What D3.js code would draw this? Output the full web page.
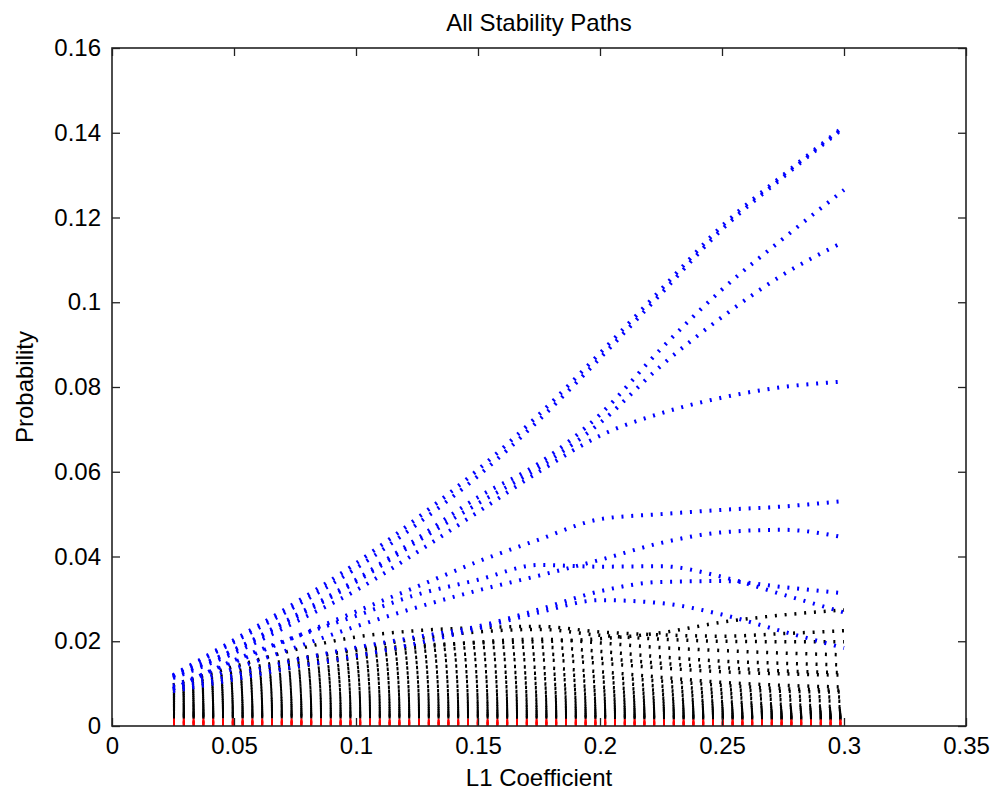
<!DOCTYPE html>
<html>
<head>
<meta charset="utf-8">
<script src="https://cdn.jsdelivr.net/npm/d3@7"></script>
<style>
  body { margin: 0; background: #fff; }
  svg { display: block; }
  text { font-family: "Liberation Sans", Arial, sans-serif; fill: #000; }
</style>
</head>
<body>
<svg id="chart" width="997" height="800"></svg>
<script>
// L1 penalty values at which each selection-probability path is sampled
const lambdas = [0.025, 0.05, 0.075, 0.1, 0.125, 0.15, 0.175, 0.2, 0.225, 0.25, 0.275, 0.3];

const xTicks = [0, 0.05, 0.1, 0.15, 0.2, 0.25, 0.3, 0.35];
const yTicks = [0, 0.02, 0.04, 0.06, 0.08, 0.1, 0.12, 0.14, 0.16];
const xTickLabels = ["0", "0.05", "0.1", "0.15", "0.2", "0.25", "0.3", "0.35"];
const yTickLabels = ["0", "0.02", "0.04", "0.06", "0.08", "0.1", "0.12", "0.14", "0.16"];

// stable features (blue)
const bluePaths = [
  [0.0120, 0.0203, 0.0290, 0.0384, 0.0490, 0.0605, 0.0735, 0.0880, 0.1030, 0.1180, 0.1300, 0.1415],
  [0.0118, 0.0198, 0.0282, 0.0372, 0.0476, 0.0590, 0.0722, 0.0868, 0.1020, 0.1172, 0.1295, 0.1412],
  [0.0118, 0.0180, 0.0260, 0.0345, 0.0442, 0.0540, 0.0620, 0.0735, 0.0890, 0.1030, 0.1150, 0.1265],
  [0.0116, 0.0178, 0.0255, 0.0340, 0.0435, 0.0525, 0.0610, 0.0715, 0.0850, 0.0965, 0.1065, 0.1143],
  [0.0113, 0.0172, 0.0245, 0.0320, 0.0410, 0.0505, 0.0600, 0.0685, 0.0738, 0.0775, 0.0800, 0.0813],
  [0.0095, 0.0150, 0.0210, 0.0270, 0.0329, 0.0388, 0.0440, 0.0488, 0.0500, 0.0510, 0.0518, 0.0531],
  [0.0090, 0.0135, 0.0185, 0.0235, 0.0280, 0.0320, 0.0355, 0.0392, 0.0432, 0.0457, 0.0463, 0.0445],
  [0.0087, 0.0155, 0.0210, 0.0260, 0.0310, 0.0345, 0.0380, 0.0376, 0.0377, 0.0352, 0.0310, 0.0268],
  [0.0085, 0.0120, 0.0155, 0.0185, 0.0210, 0.0235, 0.0275, 0.0318, 0.0340, 0.0342, 0.0328, 0.0313],
  [0.0082, 0.0110, 0.0140, 0.0165, 0.0195, 0.0230, 0.0268, 0.0297, 0.0290, 0.0263, 0.0223, 0.0184]
];

// unstable features (black)
const blackPaths = [
  [0.0097, 0.0140, 0.0180, 0.0210, 0.0225, 0.0232, 0.0235, 0.0222, 0.0215, 0.0212, 0.0218, 0.0225],
  [0.0092, 0.0128, 0.0158, 0.0178, 0.0190, 0.0196, 0.0199, 0.0206, 0.0220, 0.0245, 0.0262, 0.0274],
  [0.0088, 0.0122, 0.0152, 0.0182, 0.0206, 0.0222, 0.0228, 0.0214, 0.0205, 0.0200, 0.0199, 0.0199],
  [0.0084, 0.0115, 0.0145, 0.0168, 0.0185, 0.0198, 0.0205, 0.0196, 0.0185, 0.0178, 0.0172, 0.0168],
  [0.0080, 0.0110, 0.0138, 0.0160, 0.0175, 0.0185, 0.0186, 0.0176, 0.0163, 0.0153, 0.0148, 0.0144],
  [0.0076, 0.0103, 0.0128, 0.0148, 0.0162, 0.0170, 0.0170, 0.0160, 0.0148, 0.0138, 0.0130, 0.0126],
  [0.0072, 0.0098, 0.0120, 0.0138, 0.0150, 0.0157, 0.0156, 0.0148, 0.0137, 0.0128, 0.0123, 0.0120],
  [0.0068, 0.0092, 0.0112, 0.0128, 0.0138, 0.0142, 0.0138, 0.0128, 0.0115, 0.0103, 0.0096, 0.0092],
  [0.0064, 0.0086, 0.0104, 0.0118, 0.0126, 0.0128, 0.0124, 0.0116, 0.0106, 0.0096, 0.0088, 0.0084],
  [0.0060, 0.0080, 0.0096, 0.0108, 0.0115, 0.0116, 0.0112, 0.0104, 0.0094, 0.0086, 0.0082, 0.0080],
  [0.0056, 0.0074, 0.0088, 0.0098, 0.0104, 0.0105, 0.0100, 0.0092, 0.0084, 0.0077, 0.0071, 0.0068],
  [0.0052, 0.0068, 0.0080, 0.0088, 0.0093, 0.0094, 0.0090, 0.0083, 0.0075, 0.0068, 0.0062, 0.0058],
  [0.0048, 0.0062, 0.0072, 0.0079, 0.0083, 0.0083, 0.0080, 0.0074, 0.0066, 0.0058, 0.0051, 0.0045],
  [0.0045, 0.0057, 0.0065, 0.0071, 0.0074, 0.0074, 0.0071, 0.0065, 0.0059, 0.0052, 0.0045, 0.0040],
  [0.0042, 0.0052, 0.0059, 0.0064, 0.0066, 0.0066, 0.0063, 0.0058, 0.0052, 0.0046, 0.0041, 0.0036],
  [0.0039, 0.0047, 0.0053, 0.0057, 0.0059, 0.0058, 0.0056, 0.0051, 0.0046, 0.0041, 0.0036, 0.0032],
  [0.0036, 0.0043, 0.0048, 0.0051, 0.0052, 0.0052, 0.0049, 0.0045, 0.0041, 0.0037, 0.0033, 0.0030],
  [0.0033, 0.0039, 0.0043, 0.0045, 0.0046, 0.0046, 0.0044, 0.0040, 0.0037, 0.0033, 0.0030, 0.0027],
  [0.0030, 0.0035, 0.0038, 0.0040, 0.0041, 0.0040, 0.0038, 0.0036, 0.0033, 0.0030, 0.0027, 0.0025],
  [0.0028, 0.0032, 0.0034, 0.0035, 0.0036, 0.0035, 0.0034, 0.0032, 0.0029, 0.0027, 0.0025, 0.0023],
  [0.0026, 0.0029, 0.0030, 0.0031, 0.0031, 0.0031, 0.0030, 0.0028, 0.0026, 0.0024, 0.0022, 0.0021],
  [0.0024, 0.0026, 0.0027, 0.0027, 0.0027, 0.0027, 0.0026, 0.0025, 0.0023, 0.0022, 0.0020, 0.0019],
  [0.0022, 0.0023, 0.0024, 0.0024, 0.0024, 0.0024, 0.0023, 0.0022, 0.0021, 0.0020, 0.0019, 0.0018],
  [0.0020, 0.0021, 0.0021, 0.0021, 0.0021, 0.0021, 0.0020, 0.0020, 0.0019, 0.0018, 0.0017, 0.0016]
];

// features that are almost never selected (red)
const redPaths = [
  [0.0012, 0.0012, 0.0012, 0.0012, 0.0011, 0.0011, 0.0011, 0.0011, 0.0010, 0.0010, 0.0010, 0.0010],
  [0.0009, 0.0009, 0.0009, 0.0008, 0.0008, 0.0008, 0.0008, 0.0008, 0.0007, 0.0007, 0.0007, 0.0007],
  [0.0006, 0.0006, 0.0006, 0.0005, 0.0005, 0.0005, 0.0005, 0.0005, 0.0005, 0.0005, 0.0005, 0.0005],
  [0.0004, 0.0004, 0.0004, 0.0004, 0.0003, 0.0003, 0.0003, 0.0003, 0.0003, 0.0003, 0.0003, 0.0003]
];

const margin = { left: 112, right: 31, top: 48, bottom: 74 };
const W = 997, H = 800;
const iw = W - margin.left - margin.right;
const ih = H - margin.top - margin.bottom;

const svg = d3.select("#chart");
const g = svg.append("g").attr("transform", `translate(${margin.left},${margin.top})`);

const x = d3.scaleLinear().domain([0, 0.35]).range([0, iw]);
const y = d3.scaleLinear().domain([0, 0.16]).range([ih, 0]);

g.append("clipPath").attr("id", "plotClip")
  .append("rect").attr("width", iw).attr("height", ih);

const line = d3.line()
  .x((d, i) => x(lambdas[i]))
  .y(d => y(d))
  .curve(d3.curveMonotoneX);

const plot = g.append("g").attr("clip-path", "url(#plotClip)");

function drawGroup(paths, color, width) {
  plot.append("g")
    .selectAll("path")
    .data(paths)
    .join("path")
    .attr("d", line)
    .attr("fill", "none")
    .attr("stroke", color)
    .attr("stroke-width", width)
    .attr("stroke-dasharray", "2 7.8");
}

drawGroup(blackPaths, "#000000", 3.5);
drawGroup(redPaths, "#ff0000", 5);
drawGroup(bluePaths, "#0000ff", 4);

// axes: ticks point inward on all four sides
const fmtX = (d, i) => xTickLabels[i];
const fmtY = (d, i) => yTickLabels[i];

const axisStyle = sel => {
  sel.selectAll("path.domain").remove();
  sel.selectAll("line").attr("stroke", "#222").attr("stroke-width", 1.3);
  sel.selectAll("text").style("font-size", "24px").attr("fill", "#000");
};

g.append("g").attr("transform", `translate(0,${ih})`)
  .call(d3.axisBottom(x).tickValues(xTicks).tickFormat(fmtX).tickSizeInner(-8).tickSizeOuter(0).tickPadding(11))
  .call(axisStyle);
g.append("g")
  .call(d3.axisTop(x).tickValues(xTicks).tickFormat("").tickSizeInner(-8).tickSizeOuter(0))
  .call(axisStyle);
g.append("g")
  .call(d3.axisLeft(y).tickValues(yTicks).tickFormat(fmtY).tickSizeInner(-8).tickSizeOuter(0).tickPadding(11))
  .call(axisStyle);
g.append("g").attr("transform", `translate(${iw},0)`)
  .call(d3.axisRight(y).tickValues(yTicks).tickFormat("").tickSizeInner(-8).tickSizeOuter(0))
  .call(axisStyle);

g.append("rect")
  .attr("width", iw).attr("height", ih)
  .attr("fill", "none").attr("stroke", "#222").attr("stroke-width", 1.6);

// titles
svg.append("text")
  .attr("x", margin.left + iw / 2).attr("y", 31)
  .attr("text-anchor", "middle").style("font-size", "24px")
  .text("All Stability Paths");
svg.append("text")
  .attr("x", margin.left + iw / 2).attr("y", 786)
  .attr("text-anchor", "middle").style("font-size", "24px")
  .text("L1 Coefficient");
svg.append("text")
  .attr("transform", `translate(33,${margin.top + ih / 2}) rotate(-90)`)
  .attr("text-anchor", "middle").style("font-size", "24px")
  .text("Probability");
</script>
</body>
</html>
